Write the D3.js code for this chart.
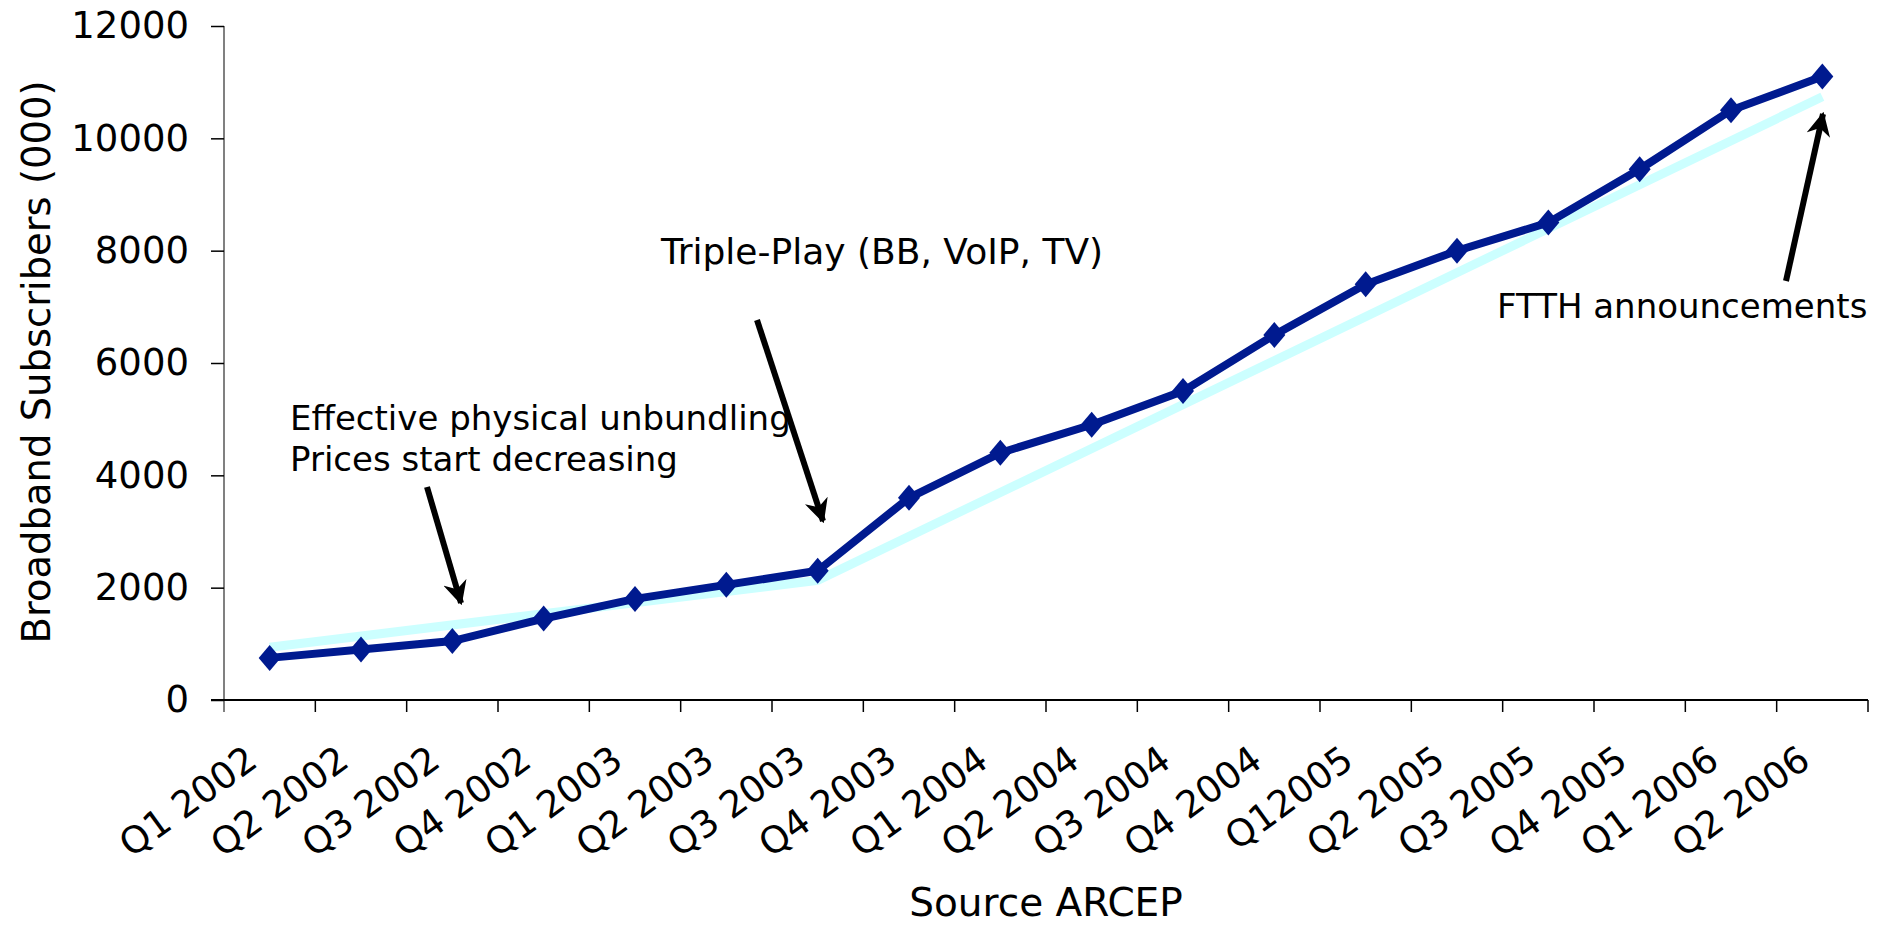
<!DOCTYPE html>
<html>
<head>
<meta charset="utf-8">
<script src="https://cdn.jsdelivr.net/npm/d3@7"></script>
<style>
  body { margin: 0; background: #fff; }
  text { font-family: "DejaVu Sans", Verdana, sans-serif; fill: #000; }
</style>
</head>
<body>
<svg id="chart" width="1885" height="927"></svg>
<script>
var quarters = ["Q1 2002", "Q2 2002", "Q3 2002", "Q4 2002", "Q1 2003", "Q2 2003",
  "Q3 2003", "Q4 2003", "Q1 2004", "Q2 2004", "Q3 2004", "Q4 2004",
  "Q12005", "Q2 2005", "Q3 2005", "Q4 2005", "Q1 2006", "Q2 2006"];
var subscribers = [750, 900, 1050, 1450, 1800, 2050, 2300, 3600, 4400, 4900,
  5500, 6500, 7400, 8000, 8500, 9450, 10500, 11100];
// trend line vertices (light cyan)
var trendQuarters = ["Q1 2002", "Q3 2003", "Q2 2006"];
var trendValues = [940, 2130, 10740];
var yTicks = [0, 2000, 4000, 6000, 8000, 10000, 12000];

var width = 1885, height = 927;
var margin = { top: 26, right: 17, bottom: 227, left: 224 };

var svg = d3.select("#chart");

var x = d3.scaleBand()
  .domain(quarters)
  .range([margin.left, width - margin.right])
  .padding(0);

var y = d3.scaleLinear()
  .domain([0, 12000])
  .range([height - margin.bottom, margin.top]);

var cx = function (q) { return x(q) + x.bandwidth() / 2; };

// y axis
var yAxis = svg.append("g")
  .attr("transform", "translate(" + margin.left + ",0)")
  .call(d3.axisLeft(y).tickValues(yTicks).tickSize(13).tickPadding(22).tickSizeOuter(0)
    .tickFormat(d3.format("d")));
yAxis.select(".domain").attr("stroke", "#808080").attr("stroke-width", 2)
  .attr("d", "M0," + y(12000) + "V" + (y(0) + 12));
yAxis.selectAll(".tick line").attr("stroke", "#000").attr("stroke-width", 1.5);
yAxis.selectAll(".tick text").style("font-size", "37px");

// x axis: ticks between categories
var xg = svg.append("g");
xg.append("line")
  .attr("x1", margin.left - 13).attr("x2", width - margin.right)
  .attr("y1", y(0)).attr("y2", y(0))
  .attr("stroke", "#000").attr("stroke-width", 2);
var bounds = quarters.slice(1).map(function (q) { return x(q); }).concat([width - margin.right]);
xg.selectAll(".xtick").data(bounds).enter().append("line")
  .attr("class", "xtick")
  .attr("x1", function (d) { return d; }).attr("x2", function (d) { return d; })
  .attr("y1", y(0)).attr("y2", y(0) + 12)
  .attr("stroke", "#000").attr("stroke-width", 1.5);
xg.selectAll(".xlabel").data(quarters).enter().append("text")
  .attr("class", "xlabel")
  .attr("text-anchor", "end")
  .attr("transform", function (d) {
    return "translate(" + (cx(d) - 10) + "," + (y(0) + 65) + ") rotate(-36)";
  })
  .style("font-size", "37px")
  .text(function (d) { return d; });

// y label
svg.append("text")
  .attr("text-anchor", "middle")
  .attr("transform", "translate(" + 50 + "," + 362 + ") rotate(-90)")
  .style("font-size", "38.5px")
  .text("Broadband Subscribers (000)");

// x label
svg.append("text")
  .attr("text-anchor", "middle")
  .attr("x", 1046).attr("y", 916)
  .style("font-size", "39px")
  .text("Source ARCEP");

// trend line
var line = d3.line()
  .x(function (d) { return cx(d.q); })
  .y(function (d) { return y(d.v); });

svg.append("path")
  .datum(trendQuarters.map(function (q, i) { return { q: q, v: trendValues[i] }; }))
  .attr("d", line)
  .attr("fill", "none")
  .attr("stroke", "#ccffff")
  .attr("stroke-width", 9);

// main series
var series = quarters.map(function (q, i) { return { q: q, v: subscribers[i] }; });
svg.append("path")
  .datum(series)
  .attr("d", line)
  .attr("fill", "none")
  .attr("stroke", "#001a8f")
  .attr("stroke-width", 8);

svg.selectAll(".marker").data(series).enter().append("path")
  .attr("class", "marker")
  .attr("transform", function (d) { return "translate(" + cx(d.q) + "," + y(d.v) + ")"; })
  .attr("d", "M0,-13L11,0L0,13L-11,0Z")
  .attr("fill", "#001a8f");

// annotations
var defs = svg.append("defs");
defs.append("marker")
  .attr("id", "arrow")
  .attr("viewBox", "0 0 10 10")
  .attr("refX", 9).attr("refY", 5)
  .attr("markerWidth", 4).attr("markerHeight", 4)
  .attr("orient", "auto")
  .append("path")
  .attr("d", "M0,0L10,5L0,10L3,5Z")
  .attr("fill", "#000");

var notes = [
  { lines: ["Effective physical unbundling", "Prices start decreasing"], x: 290, y: 430, size: 34 },
  { lines: ["Triple-Play (BB, VoIP, TV)"], x: 661, y: 264, size: 36 },
  { lines: ["FTTH announcements"], x: 1497, y: 318, size: 34 }
];
var arrows = [
  { x1: 427, y1: 487, x2: 461, y2: 603 },
  { x1: 757, y1: 320, x2: 823, y2: 521 },
  { x1: 1786, y1: 281, x2: 1823, y2: 114 }
];

notes.forEach(function (n) {
  n.lines.forEach(function (t, i) {
    svg.append("text")
      .attr("x", n.x).attr("y", n.y + i * 41)
      .style("font-size", n.size + "px")
      .text(t);
  });
});

svg.selectAll(".arrow").data(arrows).enter().append("line")
  .attr("class", "arrow")
  .attr("x1", function (d) { return d.x1; }).attr("y1", function (d) { return d.y1; })
  .attr("x2", function (d) { return d.x2; }).attr("y2", function (d) { return d.y2; })
  .attr("stroke", "#000").attr("stroke-width", 6)
  .attr("marker-end", "url(#arrow)");
</script>
</body>
</html>
